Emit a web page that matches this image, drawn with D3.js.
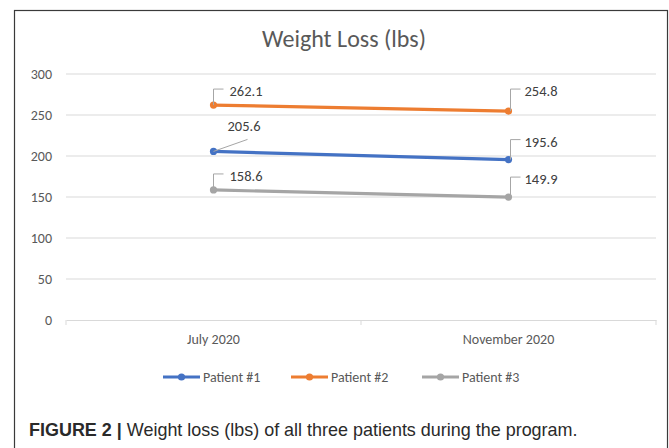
<!DOCTYPE html>
<html><head><meta charset="utf-8">
<script src="https://cdn.jsdelivr.net/npm/d3@7"></script>
<style>
body{margin:0;background:#fff;}
svg{display:block;}
</style></head>
<body>
<svg id="chart" width="669" height="448"></svg>
<script>
const categories = ["July 2020", "November 2020"];
const seriesNames = ["Patient #1", "Patient #2", "Patient #3"];
const patient1 = [205.6, 195.6];
const patient2 = [262.1, 254.8];
const patient3 = [158.6, 149.9];
const yTicks = [0, 50, 100, 150, 200, 250, 300];
const colors = ["#4472C4", "#ED7D31", "#A5A5A5"];
const titleText = "Weight Loss (lbs)";
const captionBold = "FIGURE 2 |";
const captionText = " Weight loss (lbs) of all three patients during the program.";

const series = [patient1, patient2, patient3];
const font = "Carlito, Lato, 'Open Sans', sans-serif";
const svg = d3.select("#chart");

function fitSize(sample, base, target) {
  const t = svg.append("text").attr("font-family", font).attr("font-size", base).text(sample);
  const w = t.node().getComputedTextLength();
  t.remove();
  return w > 0 ? base * target / w : base;
}
const fsTitle = Math.min(fitSize(titleText, 20, 174), 24);
const fsTick = Math.min(fitSize("300", 12, 24), 14);
const fsCat = Math.min(fitSize("November 2020", 12, 107), 14);
const fsLab = Math.min(fitSize("262.1", 12, 33), 15);
const fsLeg = Math.min(fitSize("Patient #1", 12, 67), 14);

// frame
svg.append("rect").attr("x", 14.5).attr("y", 10.5).attr("width", 653).attr("height", 450)
  .attr("fill", "none").attr("stroke", "#3a3a3a").attr("stroke-width", 1.2);

const x = d3.scaleBand().domain(categories).range([66, 656]);
const y = d3.scaleLinear().domain([0, 300]).range([320, 74]);

// title
svg.append("text").attr("x", 344).attr("y", 47).attr("text-anchor", "middle")
  .attr("font-family", font).attr("font-size", fsTitle).attr("fill", "#595959").text(titleText);

// gridlines
svg.append("g").selectAll("line").data(yTicks.filter(d => d > 0)).join("line")
  .attr("x1", 66).attr("x2", 656).attr("y1", d => y(d)).attr("y2", d => y(d))
  .attr("stroke", "#D9D9D9").attr("stroke-width", 1);

// y axis labels
const yAxis = d3.axisLeft(y).tickValues(yTicks).tickSize(0).tickPadding(0);
const gy = svg.append("g").attr("transform", "translate(52,0)").call(yAxis);
gy.select(".domain").remove();
gy.selectAll("text").attr("font-family", font).attr("font-size", fsTick).attr("fill", "#595959");

// x axis
const xAxis = d3.axisBottom(x).tickSize(0).tickPadding(14);
const gx = svg.append("g").attr("transform", "translate(0,320)").call(xAxis);
gx.select(".domain").attr("stroke", "#D9D9D9");
gx.selectAll("text").attr("font-family", font).attr("font-size", fsCat).attr("fill", "#595959");
const bounds = [x.range()[0], x(categories[1]), x.range()[1]];
gx.append("g").selectAll("line").data(bounds).join("line")
  .attr("x1", d => d).attr("x2", d => d).attr("y1", 0).attr("y2", 5)
  .attr("stroke", "#D9D9D9");

const cx = c => x(c) + x.bandwidth() / 2;
const line = d3.line().x((d, i) => cx(categories[i])).y(d => y(d));

// lines and markers
series.forEach((s, k) => {
  svg.append("path").datum(s).attr("d", line).attr("fill", "none")
    .attr("stroke", colors[k]).attr("stroke-width", 3.2).attr("stroke-linecap", "round");
  svg.append("g").selectAll("circle").data(s).join("circle")
    .attr("cx", (d, i) => cx(categories[i])).attr("cy", d => y(d)).attr("r", 3.6)
    .attr("fill", colors[k]);
});

// data labels with leader lines
const labelG = svg.append("g");
series.forEach((s, k) => {
  s.forEach((v, i) => {
    const px = cx(categories[i]), py = y(v);
    let tx, ty, path;
    if (k === 0 && i === 0) {
      tx = px + 14; ty = py - 25;
      path = `M${px},${py} L${px + 34},${py - 12}`;
    } else if (i === 0) {
      ty = py - 14; tx = px + 16;
      path = `M${px},${py} L${px},${ty - 2} L${px + 10},${ty - 2}`;
    } else {
      ty = py - 18 + (k === 1 ? -2 : 0); tx = px + 16;
      path = `M${px + 2},${py} L${px + 2},${ty - 2} L${px + 12},${ty - 2}`;
    }
    labelG.append("path").attr("d", path).attr("fill", "none")
      .attr("stroke", "#A6A6A6").attr("stroke-width", 1);
    labelG.append("text").attr("x", tx).attr("y", ty).attr("dy", "0.35em")
      .attr("font-family", font).attr("font-size", fsLab).attr("fill", "#404040")
      .text(v.toFixed(1));
  });
});

// legend
const legendX = [163, 291, 422];
const lg = svg.append("g");
seriesNames.forEach((n, k) => {
  const lx = legendX[k], ly = 377;
  lg.append("line").attr("x1", lx).attr("x2", lx + 37).attr("y1", ly).attr("y2", ly)
    .attr("stroke", colors[k]).attr("stroke-width", 3.2);
  lg.append("circle").attr("cx", lx + 18.5).attr("cy", ly).attr("r", 3.6).attr("fill", colors[k]);
  lg.append("text").attr("x", lx + 40).attr("y", ly).attr("dy", "0.35em")
    .attr("font-family", font).attr("font-size", fsLeg).attr("fill", "#595959").text(n);
});

// caption
const cap = svg.append("text").attr("x", 29).attr("y", 436)
  .attr("font-family", "'Liberation Sans', Arial, sans-serif").attr("font-size", 16).attr("fill", "#2a2a2a");
cap.append("tspan").attr("font-weight", "bold").text(captionBold);
cap.append("tspan").text(captionText);
const w = cap.node().getComputedTextLength();
if (w > 0) cap.attr("font-size", 16 * 549 / w);
</script>
</body></html>
